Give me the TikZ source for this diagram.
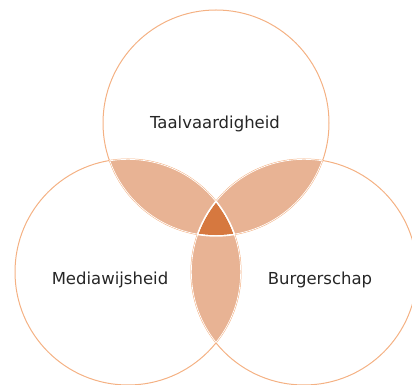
\documentclass[tikz,border=0pt]{standalone}
\usepackage{fontspec}
\setmainfont{DejaVu Sans}
\usetikzlibrary{positioning}
\definecolor{ringline}{HTML}{F4B183}
\definecolor{lensfill}{HTML}{E8B394}
\definecolor{corefill}{HTML}{D6783F}
\definecolor{ringtext}{HTML}{262626}

\begin{document}
\begin{tikzpicture}[
    x=1pt, y=1pt,
    ring/.style={draw=ringline, line width=1pt},
    seam/.style={draw=white, line width=1.4pt},
    setname/.style={font=\fontsize{16.5}{20}\selectfont, text=ringtext, anchor=base},
]
\def\R{113pt}
\useasboundingbox (0,0) rectangle (412,385);

% Circle centres
\coordinate (taal)   at (216,262);
\coordinate (media)  at (128,113);
\coordinate (burger) at (304,113);

% Pairwise overlaps
\begin{scope}
  \clip (taal) circle (\R);
  \fill[lensfill] (media) circle (\R);
  \fill[lensfill] (burger) circle (\R);
\end{scope}
\begin{scope}
  \clip (media) circle (\R);
  \fill[lensfill] (burger) circle (\R);
\end{scope}

% Centre overlap
\begin{scope}
  \clip (taal) circle (\R);
  \clip (media) circle (\R);
  \fill[corefill] (burger) circle (\R);
\end{scope}

% Outlines
\foreach \c in {taal,media,burger}
  \draw[ring] (\c) circle (\R);

% White seams inside the overlaps
\begin{scope}
  \clip (taal) circle (\R);
  \clip (media) circle (\R);
  \foreach \c in {taal,media,burger}
    \draw[seam] (\c) circle (\R);
\end{scope}
\begin{scope}
  \clip (taal) circle (\R);
  \clip (burger) circle (\R);
  \foreach \c in {taal,media,burger}
    \draw[seam] (\c) circle (\R);
\end{scope}
\begin{scope}
  \clip (media) circle (\R);
  \clip (burger) circle (\R);
  \foreach \c in {taal,media,burger}
    \draw[seam] (\c) circle (\R);
\end{scope}

% Labels
\node[setname] (taaltxt)   at (215,256) {Taalvaardigheid};
\node[setname] (mediatxt)  at (110,100) {Mediawijsheid};
\node[setname] (burgertxt) at (320,100) {Burgerschap};

\end{tikzpicture}
\end{document}
